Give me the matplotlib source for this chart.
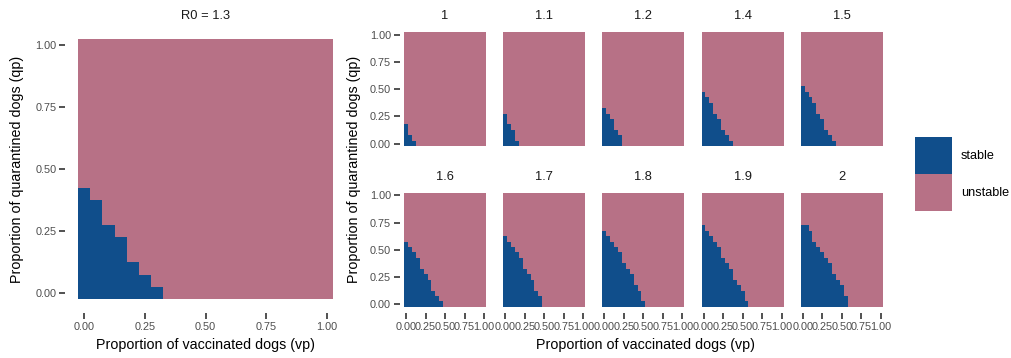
import numpy as np
import matplotlib
matplotlib.use('Agg')
import matplotlib.pyplot as plt
from matplotlib.colors import ListedColormap
from matplotlib.patches import Patch

plt.rcParams['font.family'] = ['Liberation Sans', 'DejaVu Sans']

# grid of vaccinated (vp) and quarantined (qp) proportions
grid_steps = [0.0, 0.05, 0.10, 0.15, 0.20, 0.25, 0.30, 0.35, 0.40, 0.45, 0.50,
              0.55, 0.60, 0.65, 0.70, 0.75, 0.80, 0.85, 0.90, 0.95, 1.0]

# highest stable qp for each vp column (vp = 0, 0.05, ...)
main_r0 = 1.3
main_boundary = [0.40, 0.35, 0.25, 0.20, 0.10, 0.05, 0.0]

panel_r0 = ['1', '1.1', '1.2', '1.4', '1.5', '1.6', '1.7', '1.8', '1.9', '2']
panel_boundary = [
    [0.15, 0.05, 0.0],
    [0.25, 0.15, 0.10, 0.0],
    [0.30, 0.25, 0.20, 0.10, 0.05],
    [0.45, 0.40, 0.35, 0.25, 0.20, 0.10, 0.05, 0.0],
    [0.50, 0.45, 0.40, 0.35, 0.25, 0.20, 0.10, 0.05, 0.0],
    [0.55, 0.50, 0.45, 0.40, 0.30, 0.25, 0.20, 0.10, 0.05, 0.0],
    [0.60, 0.55, 0.50, 0.45, 0.40, 0.30, 0.25, 0.20, 0.10, 0.05],
    [0.65, 0.60, 0.55, 0.50, 0.45, 0.35, 0.30, 0.25, 0.15, 0.10, 0.0],
    [0.70, 0.65, 0.60, 0.55, 0.50, 0.40, 0.35, 0.30, 0.20, 0.15, 0.10, 0.0],
    [0.70, 0.70, 0.65, 0.55, 0.50, 0.45, 0.40, 0.35, 0.25, 0.20, 0.15, 0.05],
]

status_labels = ['stable', 'unstable']
status_colors = ['#104E8B', '#B77186']
ticks = [0, 0.25, 0.5, 0.75, 1.0]

cmap = ListedColormap(status_colors)
W, H = 1011, 358


def stability_grid(boundary):
    steps = np.array(grid_steps)
    z = np.ones((len(steps), len(steps)))
    for j, qmax in enumerate(boundary):
        z[steps <= qmax + 1e-9, j] = 0
    return z


def draw_panel(ax, boundary, title, xlabels=True, ylabels=True):
    steps = np.array(grid_steps)
    half = 0.025
    edges = np.append(steps - half, steps[-1] + half)
    ax.pcolormesh(edges, edges, stability_grid(boundary), cmap=cmap, vmin=0, vmax=1)
    ax.set_xlim(-0.0775, 1.0775)
    ax.set_ylim(-0.0775, 1.0775)
    for s in ax.spines.values():
        s.set_visible(False)
    ax.tick_params(length=4, width=1.2, color='#333333', labelcolor='#4D4D4D',
                   labelsize=7.8, pad=2.5)
    if xlabels:
        ax.set_xticks(ticks)
        ax.set_xticklabels([f"{t:.2f}" for t in ticks])
    else:
        ax.set_xticks([])
    if ylabels:
        ax.set_yticks(ticks)
        ax.set_yticklabels([f"{t:.2f}" for t in ticks])
    else:
        ax.set_yticks([])
    ax.set_title(title, fontsize=9.3, color='#1A1A1A', pad=5)


fig = plt.figure(figsize=(W / 100, H / 100), dpi=100)

# left: single R0
ax_main = fig.add_axes([65.4 / W, 1 - 312.5 / H, 280.2 / W, 286.7 / H])
draw_panel(ax_main, main_boundary, f"R0 = {main_r0}")

# right: grid of R0 values
for k, (r0, bnd) in enumerate(zip(panel_r0, panel_boundary)):
    row, col = divmod(k, 5)
    left = 400 + col * 99.15
    top = 26.25 if row == 0 else 186.9
    ax = fig.add_axes([left / W, 1 - (top + 125.7) / H, 90.2 / W, 125.7 / H])
    draw_panel(ax, bnd, r0, xlabels=(row == 1), ylabels=(col == 0))

xlab = "Proportion of vaccinated dogs (vp)"
ylab = "Proportion of quarantined dogs (qp)"
fig.text(205 / W, 1 - 345 / H, xlab, ha='center', va='center', fontsize=10.3)
fig.text(17 / W, 1 - 169 / H, ylab, ha='center', va='center', rotation=90, fontsize=10.3)
fig.text(645 / W, 1 - 345 / H, xlab, ha='center', va='center', fontsize=10.3)
fig.text(354 / W, 1 - 169 / H, ylab, ha='center', va='center', rotation=90, fontsize=10.3)

# legend keys ~37 px square, stacked with no gap
handles = [Patch(facecolor=c, edgecolor='none') for c in status_colors]
fig.legend(handles, status_labels, loc='upper left', bbox_to_anchor=(915 / W, 1 - 137 / H),
           frameon=False, fontsize=9.1, handlelength=2.93, handleheight=4.14,
           labelspacing=0, borderpad=0, borderaxespad=0, handletextpad=0.69)

fig.savefig('out.png', dpi=100)
